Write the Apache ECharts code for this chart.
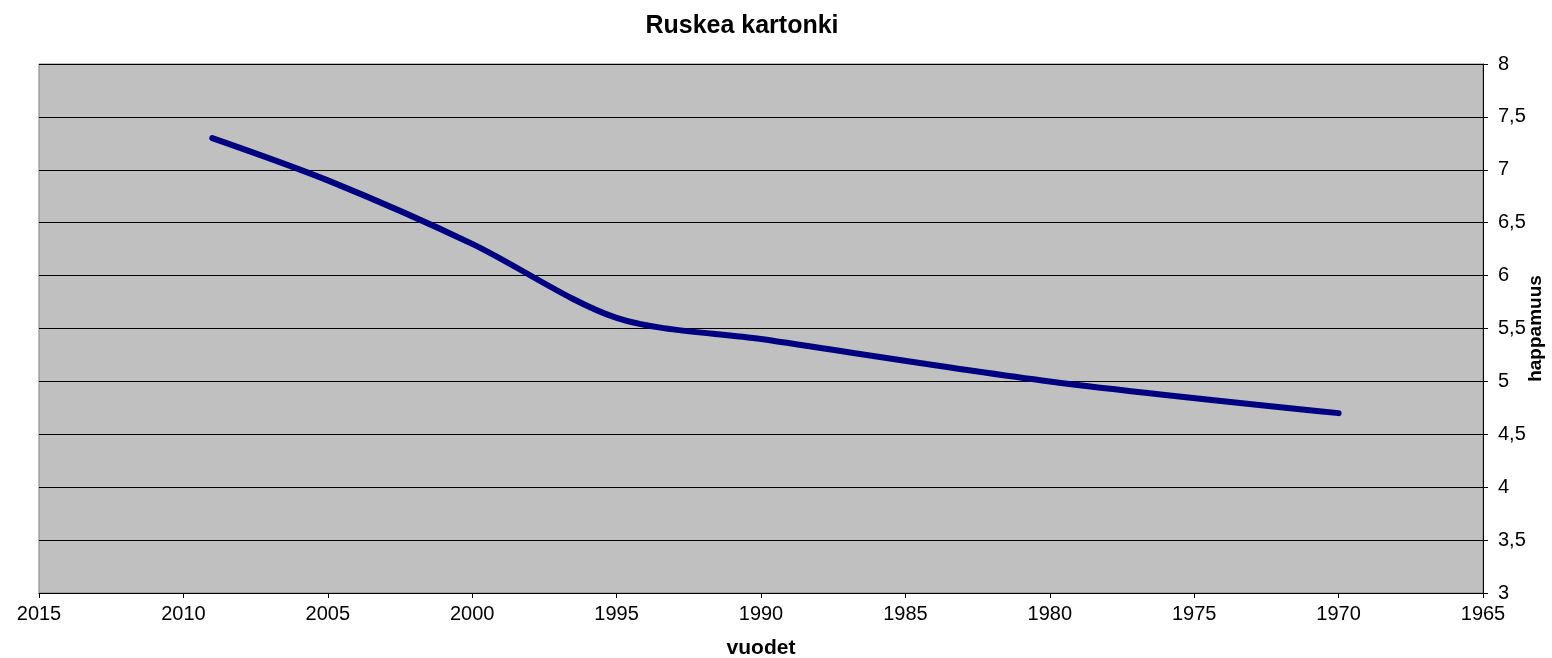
<!DOCTYPE html>
<html><head><meta charset="utf-8">
<script src="https://cdn.jsdelivr.net/npm/echarts@6/dist/echarts.min.js"></script>
<style>html,body{margin:0;padding:0;background:#fff}#c{width:1552px;height:658px}</style>
</head><body><div id="c"></div>
<script>
var years = [2009, 2005, 2000, 1995, 1990, 1980, 1970];
var acidity = [7.3, 6.9, 6.3, 5.6, 5.4, 5.0, 4.7];
var titleText = 'Ruskea kartonki';
var xName = 'vuodet';
var yName = 'happamuus';

var chart = echarts.init(document.getElementById('c'));
var font = 'Liberation Sans, Arial, sans-serif';
chart.setOption({
  animation: false,
  title: {text: titleText, left: 737, top: 9, textAlign: 'center',
    textStyle: {fontFamily: font, fontSize: 25, fontWeight: 'bold', color: '#000'}},
  grid: {left: 39, right: 69, top: 64, bottom: 65, show: true, containLabel: false,
    outerBoundsMode: 'none',
    backgroundColor: '#C0C0C0', borderColor: '#808080', borderWidth: 1},
  xAxis: {type: 'value', inverse: true, min: 1965, max: 2015, interval: 5,
    name: xName, nameLocation: 'middle', nameGap: 45, nameMoveOverlap: false,
    nameTextStyle: {fontFamily: font, fontSize: 21, fontWeight: 'bold', color: '#000'},
    axisLine: {show: true, lineStyle: {color: '#000', width: 1}},
    axisTick: {show: true, length: 5, lineStyle: {color: '#000'}},
    axisLabel: {fontFamily: font, fontSize: 20, color: '#000', margin: 11,
      formatter: function(v){ return String(v); }},
    splitLine: {show: false}},
  yAxis: {type: 'value', position: 'right', min: 3, max: 8, interval: 0.5,
    name: yName, nameLocation: 'middle', nameGap: 43, nameRotate: 90, nameMoveOverlap: false,
    nameTextStyle: {fontFamily: font, fontSize: 19, fontWeight: 'bold', color: '#000'},
    axisLine: {show: true, lineStyle: {color: '#000', width: 1}},
    axisTick: {show: true, length: 5, lineStyle: {color: '#000'}},
    axisLabel: {fontFamily: font, fontSize: 20, color: '#000', margin: 15,
      formatter: function(v){ return String(v).replace('.', ','); }},
    splitLine: {show: true, lineStyle: {color: '#000', width: 1}}},
  series: [{type: 'line', data: years.map(function(y,i){return [y, acidity[i]];}),
    smooth: 0.3, showSymbol: false, symbol: 'none',
    lineStyle: {color: '#000080', width: 6, cap: 'round'}}]
});
</script></body></html>
